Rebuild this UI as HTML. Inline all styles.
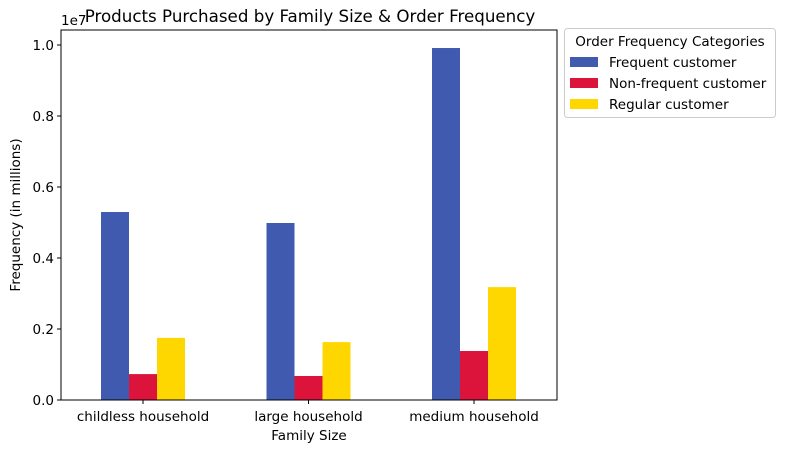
<!DOCTYPE html>
<html><head><meta charset="utf-8"><style>
body{margin:0;background:#fff;font-family:"Liberation Sans","DejaVu Sans",sans-serif;}
svg text{font-family:"DejaVu Sans","Liberation Sans",sans-serif;}
</style></head><body>
<svg id="c" width="785" height="453" viewBox="0 0 785 453" xmlns="http://www.w3.org/2000/svg"></svg>
<script>
const categories=["childless household","large household","medium household"];
const seriesNames=["Frequent customer","Non-frequent customer","Regular customer"];
const frequent=[0.5296,0.4986,0.9915];
const nonFrequent=[0.073,0.0676,0.138];
const regular=[0.175,0.163,0.318];
const yTicks=[0,0.2,0.4,0.6,0.8,1.0];
const yTickLabels=["0.0","0.2","0.4","0.6","0.8","1.0"];
const colors=["#3f5aae","#dc143c","#ffd700"];
const series=[frequent,nonFrequent,regular];
const NS="http://www.w3.org/2000/svg";
const svg=document.getElementById('c');
const L=61,R=557,T=30,B=400;
const y=v=>B-v*355;
const xc=i=>143+i*165.5;
const bw=28;
const FS=13.5;
function mk(t,a,txt){const e=document.createElementNS(NS,t);for(const k in a)e.setAttribute(k,a[k]);if(txt!=null)e.textContent=txt;svg.appendChild(e);return e;}
series.forEach((s,si)=>{s.forEach((v,i)=>{
 const r=mk('rect',{x:xc(i)-1.5*bw+si*bw,y:y(v),width:bw,height:B-y(v),fill:colors[si]});
 
 
});});
const ax=mk('rect',{x:L,y:T,width:R-L,height:B-T,fill:'none',stroke:'#000','stroke-width':1});


yTicks.forEach((v,i)=>{
 mk('line',{x1:L-4,x2:L,y1:y(v),y2:y(v),stroke:'#000'});
 const t=mk('text',{x:L-7,y:y(v)+5,'text-anchor':'end','font-size':FS},yTickLabels[i]);
 
 
});
categories.forEach((c,i)=>{
 mk('line',{x1:xc(i),x2:xc(i),y1:B,y2:B+4,stroke:'#000'});
 const t=mk('text',{x:xc(i),y:B+21,'text-anchor':'middle','font-size':FS},c);
 
 
});
let e;
e=mk('text',{x:61,y:25,'font-size':FS},'1e7');
e=mk('text',{x:310,y:22,'text-anchor':'middle','font-size':16.7},'Products Purchased by Family Size & Order Frequency');
e=mk('text',{x:309,y:440,'text-anchor':'middle','font-size':FS},'Family Size');
e=mk('text',{x:20,y:215,'text-anchor':'middle','font-size':FS,transform:'rotate(-90 20 215)'},'Frequency (in millions)');
e=mk('rect',{x:564.5,y:28.5,width:211,height:89,rx:3,fill:'#fff',stroke:'#ccc'});
e=mk('text',{x:670,y:46,'text-anchor':'middle','font-size':FS},'Order Frequency Categories');
seriesNames.forEach((n,i)=>{
 const yy=57+i*21;
 const r=mk('rect',{x:570,y:yy,width:28,height:10,fill:colors[i]});
 
 
 const t=mk('text',{x:609,y:yy+10,'font-size':FS},n);
 
 
});
</script>
</body></html>
